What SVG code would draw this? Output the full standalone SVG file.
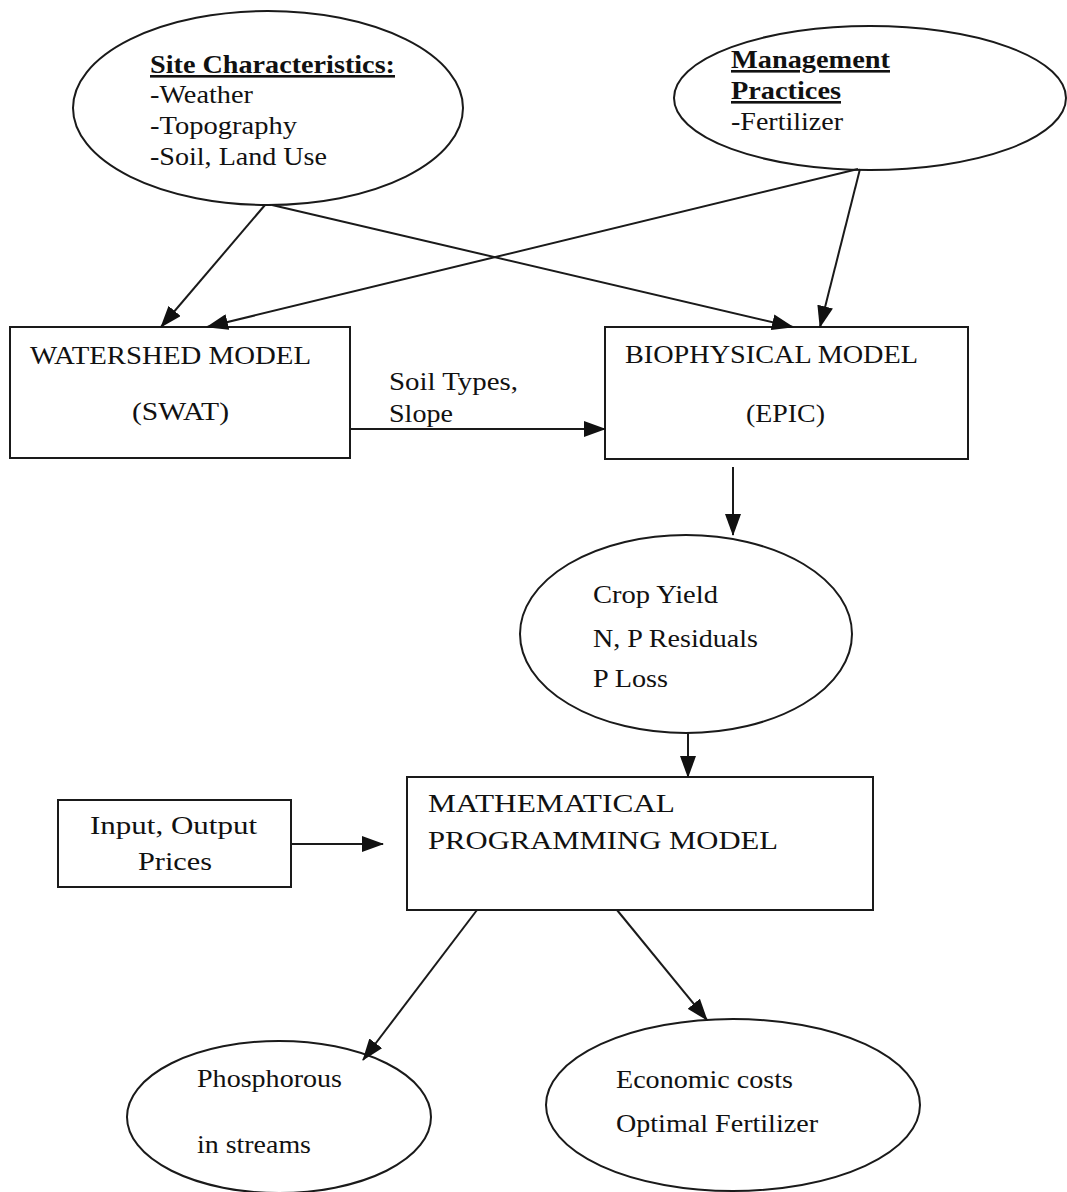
<svg xmlns="http://www.w3.org/2000/svg" width="1067" height="1192" viewBox="0 0 1067 1192">
<style>
  .shape { fill: #fff; stroke: #1a1a1a; stroke-width: 2; }
  .t { font-family: "Liberation Serif", "Times New Roman", serif; font-size: 26px; fill: #111; }
  .b { font-weight: bold; text-decoration: underline; }
  .conn line { stroke: #1a1a1a; stroke-width: 2; marker-end: url(#arrow); }
</style>
<defs>
  <marker id="arrow" markerUnits="userSpaceOnUse" markerWidth="22" markerHeight="16" refX="21" refY="8" orient="auto">
    <path d="M0,0 L22,8 L0,16 z" fill="#111"/>
  </marker>
</defs>
<rect width="1067" height="1192" fill="#fff"/>

<g id="site">
  <ellipse class="shape" cx="268" cy="108" rx="195" ry="97"/>
  <text class="t b" x="150" y="73" textLength="245" lengthAdjust="spacingAndGlyphs">Site Characteristics:</text>
  <text class="t" x="150" y="103" textLength="103" lengthAdjust="spacingAndGlyphs">-Weather</text>
  <text class="t" x="150" y="134" textLength="147" lengthAdjust="spacingAndGlyphs">-Topography</text>
  <text class="t" x="150" y="165" textLength="177" lengthAdjust="spacingAndGlyphs">-Soil, Land Use</text>
</g>

<g id="management">
  <ellipse class="shape" cx="870" cy="98" rx="196" ry="72"/>
  <text class="t b" x="731" y="68" textLength="159" lengthAdjust="spacingAndGlyphs">Management</text>
  <text class="t b" x="731" y="99" textLength="110" lengthAdjust="spacingAndGlyphs">Practices</text>
  <text class="t" x="731" y="130" textLength="112" lengthAdjust="spacingAndGlyphs">-Fertilizer</text>
</g>

<g id="watershed">
  <rect class="shape" x="10" y="327" width="340" height="131"/>
  <text class="t" x="30" y="364" textLength="281" lengthAdjust="spacingAndGlyphs">WATERSHED MODEL</text>
  <text class="t" x="132" y="420" textLength="97" lengthAdjust="spacingAndGlyphs">(SWAT)</text>
</g>

<g id="biophysical">
  <rect class="shape" x="605" y="327" width="363" height="132"/>
  <text class="t" x="625" y="363" textLength="293" lengthAdjust="spacingAndGlyphs">BIOPHYSICAL MODEL</text>
  <text class="t" x="746" y="422" textLength="79" lengthAdjust="spacingAndGlyphs">(EPIC)</text>
</g>

<g id="crop">
  <ellipse class="shape" cx="686" cy="634" rx="166" ry="99"/>
  <text class="t" x="593" y="603" textLength="125" lengthAdjust="spacingAndGlyphs">Crop Yield</text>
  <text class="t" x="593" y="647" textLength="165" lengthAdjust="spacingAndGlyphs">N, P Residuals</text>
  <text class="t" x="593" y="687" textLength="75" lengthAdjust="spacingAndGlyphs">P Loss</text>
</g>

<g id="mathprog">
  <rect class="shape" x="407" y="777" width="466" height="133"/>
  <text class="t" x="428" y="812" textLength="247" lengthAdjust="spacingAndGlyphs">MATHEMATICAL</text>
  <text class="t" x="428" y="849" textLength="350" lengthAdjust="spacingAndGlyphs">PROGRAMMING MODEL</text>
</g>

<g id="prices">
  <rect class="shape" x="58" y="800" width="233" height="87"/>
  <text class="t" x="90" y="834" textLength="167" lengthAdjust="spacingAndGlyphs">Input, Output</text>
  <text class="t" x="138" y="870" textLength="74" lengthAdjust="spacingAndGlyphs">Prices</text>
</g>

<g id="phosphorous">
  <ellipse class="shape" cx="279" cy="1117" rx="152" ry="76"/>
  <text class="t" x="197" y="1087" textLength="145" lengthAdjust="spacingAndGlyphs">Phosphorous</text>
  <text class="t" x="197" y="1153" textLength="114" lengthAdjust="spacingAndGlyphs">in streams</text>
</g>

<g id="economic">
  <ellipse class="shape" cx="733" cy="1105" rx="187" ry="86"/>
  <text class="t" x="616" y="1088" textLength="177" lengthAdjust="spacingAndGlyphs">Economic costs</text>
  <text class="t" x="616" y="1132" textLength="202" lengthAdjust="spacingAndGlyphs">Optimal Fertilizer</text>
</g>

<g id="edge-label">
  <text class="t" x="389" y="390" textLength="129" lengthAdjust="spacingAndGlyphs">Soil Types,</text>
  <text class="t" x="389" y="422" textLength="64" lengthAdjust="spacingAndGlyphs">Slope</text>
</g>

<g id="connectors" class="conn">
  <line x1="265" y1="205" x2="161" y2="327"/>
  <line x1="272" y1="205" x2="793" y2="327"/>
  <line x1="858" y1="169" x2="207" y2="327"/>
  <line x1="860" y1="169" x2="820" y2="327"/>
  <line x1="350" y1="429" x2="605" y2="429"/>
  <line x1="733" y1="467" x2="733" y2="535"/>
  <line x1="688" y1="733" x2="688" y2="777"/>
  <line x1="291" y1="844" x2="383" y2="844"/>
  <line x1="477" y1="910" x2="363" y2="1060"/>
  <line x1="617" y1="910" x2="707" y2="1020"/>
</g>
</svg>
